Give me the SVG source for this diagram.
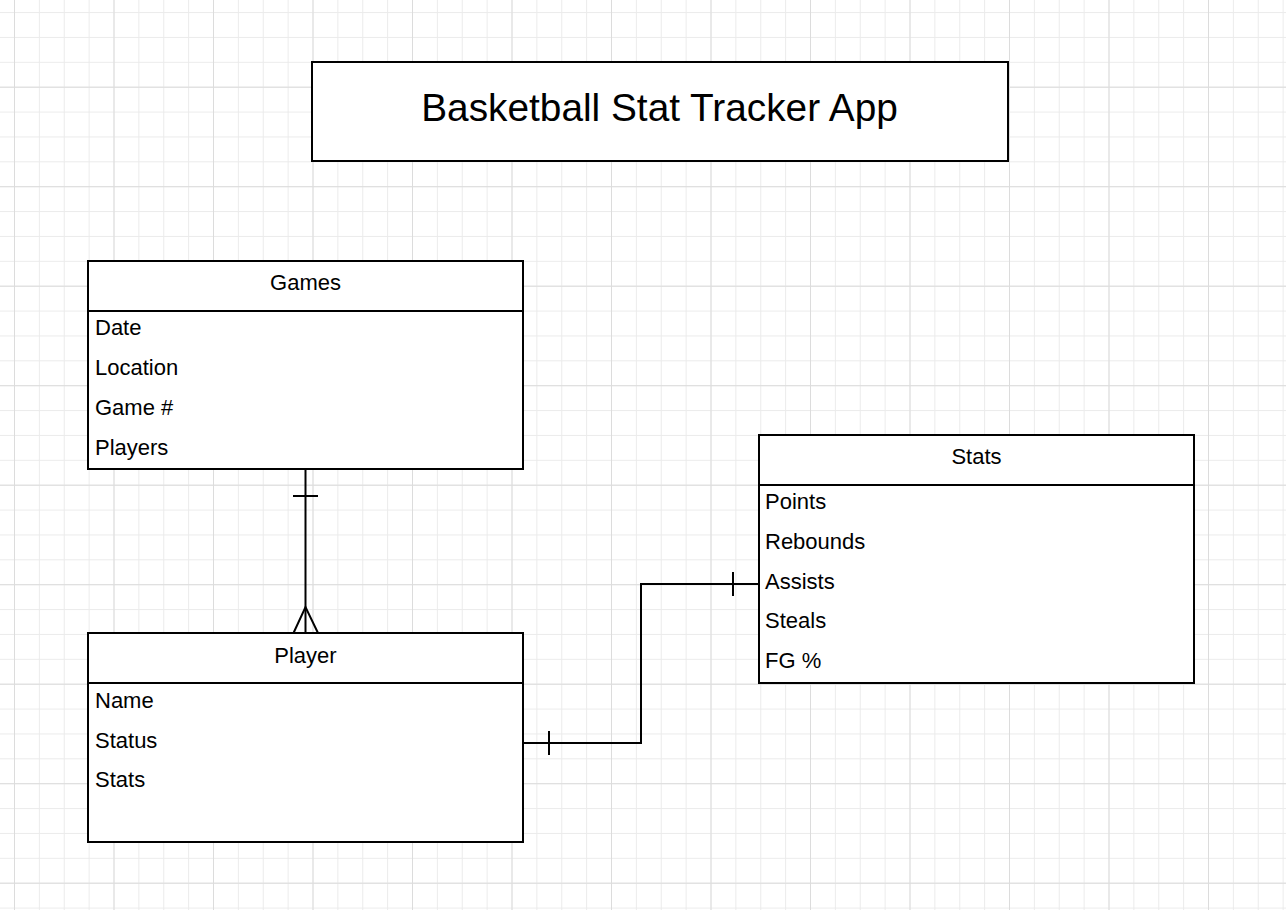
<svg xmlns="http://www.w3.org/2000/svg" width="1286" height="910" viewBox="0 0 1286 910">
<style>
.box{fill:#fff;stroke:#000;stroke-width:2}
.ln{fill:none;stroke:#000;stroke-width:2}
.t{font-family:"Liberation Sans",Arial,sans-serif;font-size:22px;fill:#000}
.h{text-anchor:middle}
</style>
<defs>
<pattern id="minor" width="24.875" height="24.875" patternUnits="userSpaceOnUse" x="14" y="-12.8">
<path d="M0.5 0V24.875M0 0.5H24.875" stroke="#ebebeb" stroke-width="1" fill="none"/>
</pattern>
<pattern id="major" width="99.5" height="99.5" patternUnits="userSpaceOnUse" x="14" y="-12.8">
<path d="M0.5 0V99.5M0 0.5H99.5" stroke="#dcdcdc" stroke-width="1" fill="none"/>
</pattern>
</defs>
<rect width="1286" height="910" fill="#fff"/>
<rect width="1286" height="910" fill="url(#minor)"/>
<rect width="1286" height="910" fill="url(#major)"/>

<g id="title">
<rect class="box" x="312" y="62" width="696" height="99"/>
<text class="t h" x="659.5" y="121" style="font-size:38.8px">Basketball Stat Tracker App</text>
</g>

<g id="games">
<rect class="box" x="88" y="261" width="435" height="208"/>
<line class="ln" x1="88" y1="311" x2="523" y2="311"/>
<text class="t h" x="305.5" y="290">Games</text>
<text class="t" x="95" y="335">Date</text>
<text class="t" x="95" y="375">Location</text>
<text class="t" x="95" y="415">Game #</text>
<text class="t" x="95" y="455">Players</text>
</g>

<g id="player">
<rect class="box" x="88" y="633" width="435" height="209"/>
<line class="ln" x1="88" y1="683" x2="523" y2="683"/>
<text class="t h" x="305.5" y="663">Player</text>
<text class="t" x="95" y="708">Name</text>
<text class="t" x="95" y="748">Status</text>
<text class="t" x="95" y="787">Stats</text>
</g>

<g id="stats">
<rect class="box" x="759" y="435" width="435" height="248"/>
<line class="ln" x1="759" y1="485" x2="1194" y2="485"/>
<text class="t h" x="976.5" y="464">Stats</text>
<text class="t" x="765" y="509">Points</text>
<text class="t" x="765" y="549">Rebounds</text>
<text class="t" x="765" y="589">Assists</text>
<text class="t" x="765" y="628">Steals</text>
<text class="t" x="765" y="668">FG %</text>
</g>

<g id="connectors">
<path class="ln" d="M305.5 469V633"/>
<path class="ln" d="M293 496H318"/>
<path class="ln" d="M293.5 633L305.5 607L318 633"/>
<path class="ln" d="M523 743H641V584H759"/>
<path class="ln" d="M549 731V755"/>
<path class="ln" d="M733 572V596"/>
</g>
</svg>
